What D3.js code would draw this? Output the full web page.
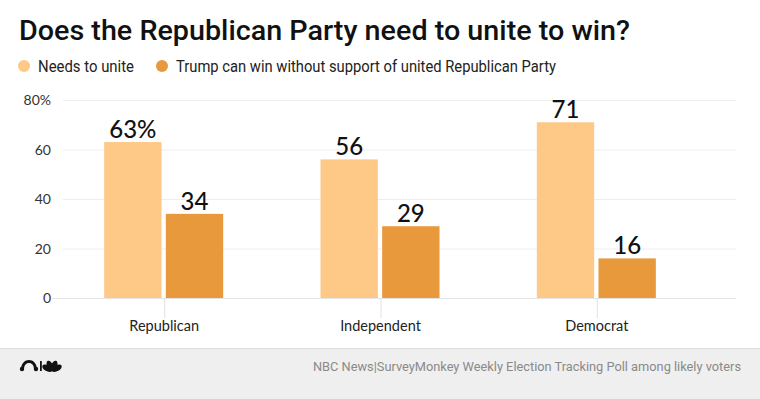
<!DOCTYPE html>
<meta charset="utf-8">
<head>
<title>unite to win</title>
<script src="https://cdn.jsdelivr.net/npm/d3@7/dist/d3.min.js"></script>
<style>
  body { margin: 0; background: #fff; }
</style>
</head>
<body>

<div id="chart"></div>

<script>

const width = 760;
const height = 399;

// data
const categories = ["Republican", "Independent", "Democrat"];
const series = ["Needs to unite", "Trump can win without support of united Republican Party"];
const needsToUnite = [63, 56, 71];
const canWinAlone = [34, 29, 16];
const yTicks = [0, 20, 40, 60, 80];
const colors = ["#fec887", "#e8993c"];

const rows = categories.map((c, i) => ({
  category: c,
  values: [needsToUnite[i], canWinAlone[i]]
}));

const svg = d3.select("#chart")
  .append("svg")
  .attr("width", width)
  .attr("height", height)
  .attr("viewBox", [0, 0, width, height]);

const sans = "'Lato', 'Open Sans', sans-serif";
const narrow = "'Roboto', 'Lato', sans-serif";

// title
svg.append("text")
  .attr("x", 19)
  .attr("y", 40)
  .attr("textLength", 611)
  .attr("lengthAdjust", "spacingAndGlyphs")
  .style("font", `500 27px 'Roboto', ${sans}`)
  .attr("fill", "#111")
  .text("Does the Republican Party need to unite to win?");

// legend
const legendX = [24, 162];
const legendW = [96, 380];
const legend = svg.append("g")
  .selectAll("g")
  .data(series)
  .join("g")
  .attr("transform", (d, i) => `translate(${legendX[i]},66)`);

legend.append("circle")
  .attr("r", 6)
  .attr("fill", (d, i) => colors[i]);

legend.append("text")
  .attr("x", 14)
  .attr("y", 6)
  .attr("textLength", (d, i) => legendW[i])
  .attr("lengthAdjust", "spacingAndGlyphs")
  .style("font", `16px ${narrow}`)
  .attr("fill", "#222")
  .text(d => d);

// scales
const y = d3.scaleLinear()
  .domain([0, 80])
  .range([298, 100]);

const x0 = d3.scaleBand()
  .domain(categories)
  .range([56, 705]);

const c0 = x0.bandwidth() / 2;
const x1 = d3.scaleBand()
  .domain(d3.range(series.length))
  .range([c0 - 60, c0 + 59])
  .paddingInner(0.07);

// grid
svg.append("g")
  .selectAll("line")
  .data(yTicks)
  .join("line")
    .attr("x1", d => d === 0 ? 52 : 63)
    .attr("x2", 736)
    .attr("y1", d => y(d) + 0.5)
    .attr("y2", d => y(d) + 0.5)
    .attr("stroke", d => d === 0 ? "#e4e4e4" : "#eeeeee")
    .attr("stroke-width", 1);

// y labels
svg.append("g")
  .selectAll("text")
  .data(yTicks)
  .join("text")
    .attr("x", 51)
    .attr("y", d => y(d) + 5)
    .attr("text-anchor", "end")
    .style("font", `14px ${sans}`)
    .attr("fill", "#333")
    .text(d => d === 80 ? "80%" : d);

// category ticks + labels
const cat = svg.append("g")
  .selectAll("g")
  .data(categories)
  .join("g")
  .attr("transform", d => `translate(${x0(d) + c0},0)`);

cat.append("line")
  .attr("x1", 0.5).attr("x2", 0.5)
  .attr("y1", y(0)).attr("y2", 318)
  .attr("stroke", "#e2e2e2");

cat.append("text")
  .attr("y", 331)
  .attr("text-anchor", "middle")
  .style("font", `14.5px ${sans}`)
  .attr("fill", "#222")
  .text(d => d);

// bars
const group = svg.append("g")
  .selectAll("g")
  .data(rows)
  .join("g")
  .attr("transform", d => `translate(${x0(d.category)},0)`);

group.selectAll("rect")
  .data(d => d.values.map((v, i) => ({v, i})))
  .join("rect")
    .attr("x", d => x1(d.i))
    .attr("y", d => y(d.v))
    .attr("width", x1.bandwidth())
    .attr("height", d => y(0) - y(d.v))
    .attr("fill", d => colors[d.i]);

group.selectAll("text")
  .data((d, gi) => d.values.map((v, i) => ({v, i, gi})))
  .join("text")
    .attr("x", d => x1(d.i) + x1.bandwidth() / 2)
    .attr("y", d => y(d.v) - 4)
    .attr("text-anchor", "middle")
    .style("font", `500 24px ${sans}`)
    .attr("fill", "#111")
    .text(d => d.gi === 0 && d.i === 0 ? d.v + "%" : d.v);

// footer
svg.append("rect")
  .attr("x", 0).attr("y", 349)
  .attr("width", width).attr("height", height - 349)
  .attr("fill", "#efefef");

svg.append("line")
  .attr("x1", 0).attr("x2", width)
  .attr("y1", 348.5).attr("y2", 348.5)
  .attr("stroke", "#dcdcdc");

svg.append("text")
  .attr("x", 741)
  .attr("y", 371)
  .attr("text-anchor", "end")
  .attr("textLength", 428)
  .attr("lengthAdjust", "spacingAndGlyphs")
  .style("font", `12.8px ${narrow}`)
  .attr("fill", "#8a8a8a")
  .text("NBC News|SurveyMonkey Weekly Election Tracking Poll among likely voters");

// rough logo: monkey arch | peacock
const logo = svg.append("g").attr("transform", "translate(20,358)").attr("fill", "#111");
logo.append("path")
  .attr("d", "M1,12 C1,5 5,2 9,2 C13,2 17,5 17,12 L14,12 C14,7 12,5 9,5 C6,5 4,7 4,12 Z");
logo.append("circle").attr("cx", 2).attr("cy", 11).attr("r", 2.2);
logo.append("circle").attr("cx", 16).attr("cy", 11).attr("r", 2.2);
logo.append("rect").attr("x", 20).attr("y", 3).attr("width", 1.8).attr("height", 10);
const fan = [[-60], [-22], [22], [60]];
logo.selectAll("ellipse")
  .data(fan)
  .join("ellipse")
    .attr("cx", 0).attr("cy", -5.5)
    .attr("rx", 3).attr("ry", 5.5)
    .attr("transform", d => `translate(32,13) rotate(${d[0]})`);

</script>

</body>
